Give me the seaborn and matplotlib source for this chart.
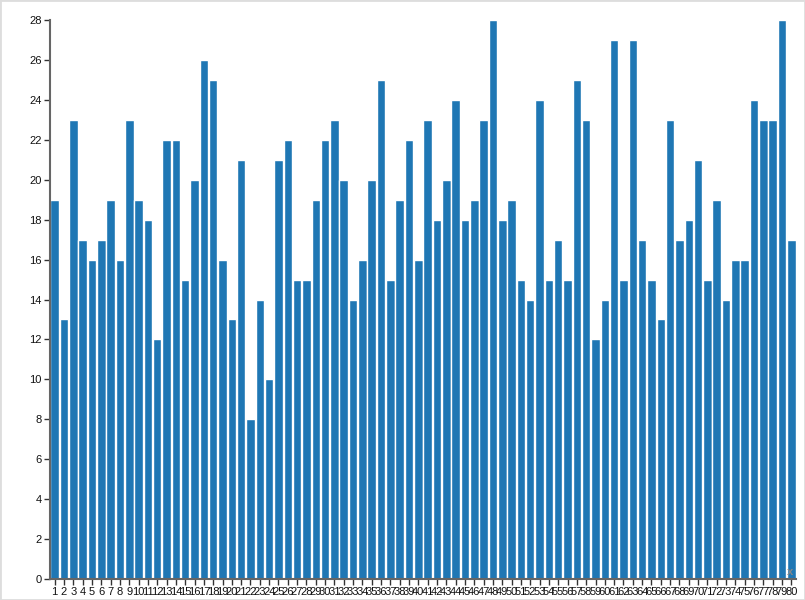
import matplotlib
matplotlib.use("Agg")
import matplotlib.pyplot as plt
import seaborn as sns
import pandas as pd

categories = [str(i) for i in range(1, 81)]
values = [19, 13, 23, 17, 16, 17, 19, 16, 23, 19,
          18, 12, 22, 22, 15, 20, 26, 25, 16, 13,
          21, 8, 14, 10, 21, 22, 15, 15, 19, 22,
          23, 20, 14, 16, 20, 25, 15, 19, 22, 16,
          23, 18, 20, 24, 18, 19, 23, 28, 18, 19,
          15, 14, 24, 15, 17, 15, 25, 23, 12, 14,
          27, 15, 27, 17, 15, 13, 23, 17, 18, 21,
          15, 19, 14, 16, 16, 24, 23, 23, 28, 17]
y_ticks = list(range(0, 29, 2))

sns.set_style("white")
plt.rcParams['font.family'] = ['Liberation Sans', 'DejaVu Sans']

df = pd.DataFrame({"x": categories, "y": values})

fig = plt.figure(figsize=(8.05, 6.0), dpi=100)
ax = fig.add_axes([50 / 805, 21 / 600, 746 / 805, 559 / 600])

sns.barplot(data=df, x="x", y="y", color="#1f77b4", saturation=1,
            width=0.91, ax=ax, order=categories)

ax.set_xlim(-0.5, len(categories) - 0.5)
ax.set_ylim(0, 28)
ax.set_yticks(y_ticks)
ax.set_yticklabels([str(t) for t in y_ticks])
ax.set_xlabel("")
ax.set_ylabel("")
for s in ["top", "right"]:
    ax.spines[s].set_visible(False)
for s in ["left", "bottom"]:
    ax.spines[s].set_color("#666666")
    ax.spines[s].set_linewidth(1.5)
ax.tick_params(axis="both", bottom=True, left=True, labelsize=8, length=4.5,
               width=1, color="#333333", labelcolor="#111111", pad=1.5)
ax.tick_params(axis="x", labelsize=8, pad=1)

ax.text(0.992, 0.013, "x", transform=ax.transAxes, ha="center", va="center",
        fontsize=8, color="#888888", fontweight="bold")

# light border around figure
fig.patches.append(plt.Rectangle((0, 0), 1, 1, transform=fig.transFigure,
                                 fill=False, edgecolor="#dddddd", linewidth=2))

fig.savefig("out.png", dpi=100)
